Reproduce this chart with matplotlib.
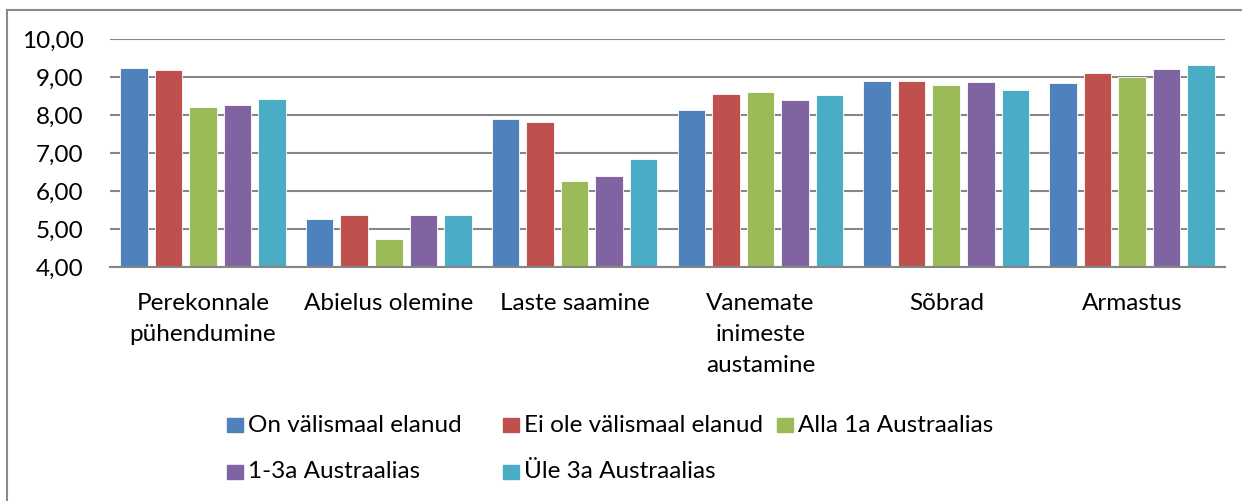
import matplotlib.pyplot as plt
import matplotlib.patches as mpatches
import matplotlib.lines as mlines
import numpy as np

plt.rcParams['font.family'] = ['Lato', 'DejaVu Sans']

categories = ['Perekonnale\npühendumine', 'Abielus olemine', 'Laste saamine',
              'Vanemate\ninimeste\naustamine', 'Sõbrad', 'Armastus']
series_names = ['On välismaal elanud', 'Ei ole välismaal elanud', 'Alla 1a Austraalias',
                '1-3a Austraalias', 'Üle 3a Austraalias']
on_valismaal = [9.25, 5.27, 7.89, 8.14, 8.89, 8.86]
ei_ole_valismaal = [9.18, 5.38, 7.82, 8.57, 8.90, 9.11]
alla_1a = [8.21, 4.75, 6.28, 8.60, 8.79, 9.00]
a_1_3 = [8.27, 5.37, 6.40, 8.39, 8.88, 9.22]
ule_3a = [8.42, 5.37, 6.85, 8.53, 8.67, 9.33]
yticks = [4, 5, 6, 7, 8, 9, 10]

values = [on_valismaal, ei_ole_valismaal, alla_1a, a_1_3, ule_3a]
colors = ['#4F81BD', '#C0504D', '#9BBB59', '#8064A2', '#4BACC6']

fig = plt.figure(figsize=(12.42, 5.01), dpi=100)
ax = fig.add_axes([0.0886, 0.4665, 0.8977, 0.4551])

x = np.arange(len(categories))
stride = 0.186
width = 0.148
for i, (vals, c) in enumerate(zip(values, colors)):
    ax.bar(x + (i - 2) * stride, np.array(vals) - 4, width, bottom=4, color=c,
           edgecolor='white', linewidth=0.6, zorder=3)

ax.set_xlim(-0.5, len(categories) - 0.5)
ax.set_ylim(4, 10)
ax.set_yticks(yticks)
ax.set_yticklabels([('%.2f' % v).replace('.', ',') for v in yticks])
ax.yaxis.grid(True, color='#868686', linewidth=1.5, zorder=1)
ax.set_xticks(x)
ax.set_xticklabels(categories, linespacing=1.6)
ax.tick_params(axis='y', length=0, pad=19, labelsize=17.5)
ax.tick_params(axis='x', length=0, pad=18.5, labelsize=17.5)
for s in ['top', 'right', 'left']:
    ax.spines[s].set_visible(False)
ax.spines['bottom'].set_color('#868686')
ax.spines['bottom'].set_linewidth(1.5)
ax.spines['bottom'].set_zorder(4)

# legend laid out like Excel: equal-width columns, row by row
col_x = [227, 503, 777]
row_y = [425, 472]
W, H = 1242.0, 501.0
for i, (name, c) in enumerate(zip(series_names, colors)):
    cx = col_x[i % 3]
    cy = row_y[i // 3]
    fig.patches.append(mpatches.Rectangle((cx / W, 1 - (cy + 7) / H), 16 / W, 14 / H,
                                          transform=fig.transFigure, color=c))
    fig.text((cx + 21) / W, 1 - cy / H, name, fontsize=17.5, va='center', ha='left')

# chart border (top and left edges visible)
fig.lines.append(mlines.Line2D([7 / W, 1], [1 - 10 / H, 1 - 10 / H], transform=fig.transFigure,
                               color='#8a8a8a', linewidth=1.5))
fig.lines.append(mlines.Line2D([7 / W, 7 / W], [0, 1 - 10 / H], transform=fig.transFigure,
                               color='#8a8a8a', linewidth=1.5))

fig.savefig('out.png', dpi=100)
